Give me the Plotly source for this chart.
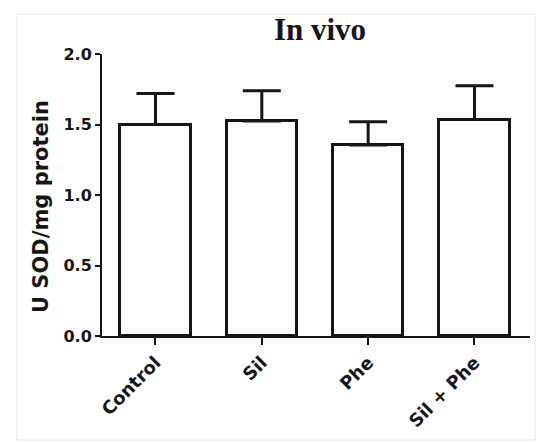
import plotly.graph_objects as go

# SOD activity per group (mean + SEM)
groups = ["Control", "Sil", "Phe", "Sil + Phe"]
sod_mean = [1.50, 1.525, 1.355, 1.535]
sod_sem = [0.22, 0.215, 0.165, 0.24]
y_ticks = [0.0, 0.5, 1.0, 1.5, 2.0]
y_tick_text = ["0.0", "0.5", "1.0", "1.5", "2.0"]

INK = "#161616"
SANS = "DejaVu Sans"

W, H = 537, 443
ML, MR, MT, MB = 102, 7, 54, 107
PW, PH = W - ML - MR, H - MT - MB


def px_to_paper(x, y):
    return (x - ML) / PW, (H - MB - y) / PH


fig = go.Figure()
fig.add_trace(go.Bar(
    x=list(range(len(groups))),
    y=sod_mean,
    width=0.66,
    marker=dict(color="white", line=dict(color=INK, width=3)),
    error_y=dict(type="data", array=sod_sem, arrayminus=[0] * len(groups),
                 symmetric=False, color=INK, thickness=3, width=19),
    showlegend=False,
))

bx0, by0 = px_to_paper(17, 440)
bx1, by1 = px_to_paper(535, 14)
tx, ty = px_to_paper(41, 207)

fig.update_layout(
    width=W, height=H,
    margin=dict(l=ML, r=MR, t=MT, b=MB, autoexpand=False),
    paper_bgcolor="white", plot_bgcolor="white",
    bargap=0,
    title=dict(text="In vivo", x=(320 - ML) / PW, xref="paper", xanchor="center",
               y=1 - 29 / H, yanchor="middle",
               font=dict(family="Liberation Serif", size=31, color=INK, weight="bold")),
    xaxis=dict(
        range=[-0.503, 3.522], tickmode="array",
        tickvals=list(range(len(groups))), ticktext=groups,
        tickangle=-45, ticks="outside", ticklen=7, tickwidth=2, tickcolor=INK,
        showline=True, linewidth=2, linecolor=INK, showgrid=False, zeroline=False,
        tickfont=dict(family=SANS, size=18, color=INK, weight="bold"),
    ),
    yaxis=dict(
        range=[0, 2.0], tickmode="array", tickvals=y_ticks, ticktext=y_tick_text,
        ticks="outside", ticklen=5, tickwidth=2, tickcolor=INK,
        showline=True, linewidth=2, linecolor=INK, showgrid=False, zeroline=False,
        tickfont=dict(family=SANS, size=16, color=INK, weight="bold"),
    ),
    annotations=[dict(
        text="U SOD/mg protein", xref="paper", yref="paper", x=tx, y=ty,
        xanchor="center", yanchor="middle", textangle=-90, showarrow=False,
        font=dict(family=SANS, size=21, color=INK, weight="bold"),
    )],
    shapes=[dict(type="rect", xref="paper", yref="paper",
                 x0=bx0, y0=by0, x1=bx1, y1=by1,
                 line=dict(color="#e6e6e6", width=1), layer="below")],
)

fig.write_html("out.html")
